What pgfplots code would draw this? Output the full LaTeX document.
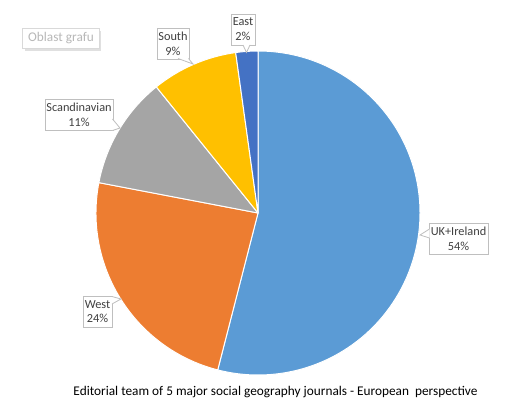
\documentclass[border=0pt]{standalone}
\usepackage{pgfplots}
\pgfplotsset{compat=1.18}
\usepackage{pgfplotstable}
\usepackage{fontspec}
\setmainfont{Carlito}
\definecolor{pieA}{HTML}{5B9BD5}
\definecolor{pieB}{HTML}{ED7D31}
\definecolor{pieC}{HTML}{A5A5A5}
\definecolor{pieD}{HTML}{FFC000}
\definecolor{pieE}{HTML}{4472C4}
\definecolor{lbltext}{HTML}{404040}
\definecolor{lblbord}{HTML}{BFBFBF}
\pgfplotstableread[col sep=comma]{
name,value,col
UK+Ireland,54.0,pieA
West,24.0,pieB
Scandinavian,11.2,pieC
South,8.6,pieD
East,2.2,pieE
}\piedata
% callout: tip x,y ; base1 x,y ; base2 x,y (pixel coords, y from top)
\newcommand{\spike}[6]{%
  \fill[white] (axis cs:#3,408-#4) -- (axis cs:#1,408-#2) -- (axis cs:#5,408-#6) -- cycle;
  \draw[lblbord, line width=0.8bp] (axis cs:#3,408-#4) -- (axis cs:#1,408-#2) -- (axis cs:#5,408-#6);
}
\begin{document}
\begin{tikzpicture}
\begin{axis}[
  x=1bp, y=1bp, scale only axis, disabledatascaling,
  xmin=0, xmax=521, ymin=0, ymax=408,
  hide axis, clip=false,
]
\addplot[draw=none, forget plot] coordinates {(0,0) (521,408)};
\xdef\cum{0}
\pgfplotstablegetrowsof{\piedata}
\pgfmathtruncatemacro{\nrows}{\pgfplotsretval-1}
\foreach \i in {0,...,\nrows}{
  \pgfplotstablegetelem{\i}{value}\of\piedata
  \let\v\pgfplotsretval
  \pgfplotstablegetelem{\i}{col}\of\piedata
  \let\c\pgfplotsretval
  \pgfmathsetmacro{\a}{90-3.6*\cum}
  \pgfmathsetmacro{\b}{90-3.6*(\cum+\v)}
  \edef\temp{\noexpand\fill[\c, draw=white, line width=1bp, line join=round] (axis cs:258,195) -- ++(\a:162bp) arc[start angle=\a, end angle=\b, radius=162bp] -- cycle;}
  \temp
  \pgfmathsetmacro{\newcum}{\cum+\v}
  \xdef\cum{\newcum}
}
% data labels
\tikzset{lbl/.style={draw=lblbord, line width=0.8bp, fill=white, text=lbltext, align=center,
  font=\fontsize{12.3bp}{14.8bp}\selectfont, inner sep=0pt, minimum height=31bp}}
\node[lbl, minimum width=59bp] at (axis cs:458.5,408-238.5) {UK+Ireland\\54\%};
\spike{420}{235}{429.5}{229}{429.5}{238}
\node[lbl, minimum width=29bp] at (axis cs:97.5,408-311.5) {West\\24\%};
\spike{121}{299}{112}{296.5}{112}{304}
\node[lbl, minimum width=68bp] at (axis cs:79,408-115) {Scandinavian\\11\%};
\spike{120}{128}{112.5}{119}{112.5}{130.5}
\node[lbl, minimum width=32bp] at (axis cs:173,408-43.5) {South\\9\%};
\spike{193}{64}{178}{58.5}{188.5}{58.5}
\node[lbl, minimum width=24bp] at (axis cs:243,408-29.5) {East\\2\%};
\spike{246.5}{52.5}{243}{45}{250}{45}
% chart area tooltip
\fill[black!12] (axis cs:24.5,408-31) rectangle (axis cs:101,408-51);
\node[draw=black!15, fill=white, text=black!28, font=\fontsize{13.3bp}{15bp}\selectfont,
  minimum width=77bp, minimum height=20bp, inner sep=0pt] at (axis cs:61,408-38.5) {Oblast grafu};
% title
\node[text=black, font=\fontsize{13.3bp}{16bp}\selectfont, inner sep=0pt] at (axis cs:275.5,408-392.5)
  {Editorial team of 5 major social geography journals - European\ \ perspective};
\end{axis}
\end{tikzpicture}
\end{document}
